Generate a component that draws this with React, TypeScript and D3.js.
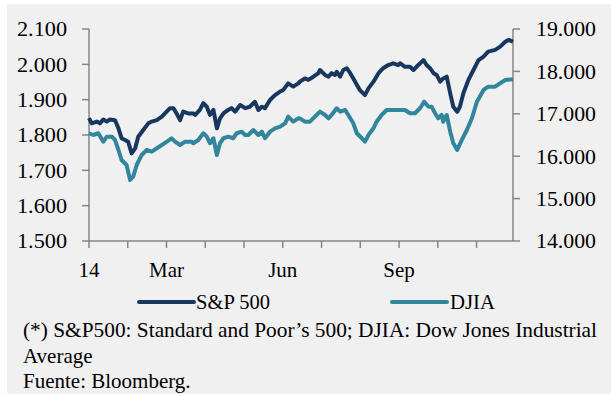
import React from "react";
import * as d3 from "d3";

// S&P 500 (left axis) — position in months from Jan 2014, index value
const spxMonth = [0, 0.07, 0.2, 0.28, 0.37, 0.46, 0.54, 0.67, 0.76, 0.84, 0.93, 1.01, 1.1, 1.19, 1.27, 1.4, 1.53, 1.62, 1.75, 1.88, 1.96, 2.09, 2.18, 2.26, 2.35, 2.43, 2.56, 2.69, 2.74, 2.86, 2.95, 3.04, 3.12, 3.21, 3.3, 3.38, 3.47, 3.59, 3.68, 3.77, 3.9, 4.03, 4.15, 4.28, 4.37, 4.46, 4.54, 4.67, 4.8, 4.93, 5.01, 5.14, 5.27, 5.4, 5.44, 5.57, 5.66, 5.79, 5.92, 5.96, 6.09, 6.18, 6.26, 6.35, 6.39, 6.48, 6.56, 6.65, 6.74, 6.82, 6.91, 6.99, 7.12, 7.21, 7.34, 7.47, 7.59, 7.72, 7.85, 7.98, 8.03, 8.15, 8.28, 8.37, 8.45, 8.63, 8.71, 8.8, 8.89, 8.97, 9.06, 9.14, 9.23, 9.32, 9.4, 9.5, 9.57, 9.66, 9.79, 9.92, 10.05, 10.18, 10.3, 10.48, 10.61, 10.74, 10.82, 10.94];
const spxValue = [1848, 1833, 1838, 1833, 1844, 1838, 1844, 1842, 1819, 1791, 1786, 1781, 1748, 1762, 1795, 1814, 1833, 1838, 1842, 1852, 1861, 1876, 1876, 1861, 1842, 1866, 1861, 1861, 1857, 1871, 1890, 1880, 1857, 1871, 1819, 1847, 1861, 1871, 1876, 1866, 1885, 1876, 1880, 1894, 1871, 1880, 1876, 1899, 1913, 1923, 1927, 1946, 1937, 1946, 1951, 1960, 1956, 1965, 1975, 1984, 1970, 1965, 1975, 1970, 1979, 1965, 1984, 1989, 1975, 1960, 1942, 1927, 1913, 1932, 1951, 1975, 1989, 1998, 2003, 1998, 2003, 1993, 1993, 1984, 1993, 2012, 1998, 1989, 1975, 1970, 1951, 1960, 1965, 1918, 1880, 1866, 1880, 1918, 1956, 1984, 2012, 2022, 2036, 2041, 2050, 2064, 2069, 2064];

// DJIA (right axis)
const djiaMonth = [0, 0.11, 0.24, 0.37, 0.46, 0.59, 0.67, 0.76, 0.84, 0.97, 1.06, 1.14, 1.23, 1.36, 1.49, 1.62, 1.75, 1.88, 2.01, 2.13, 2.22, 2.35, 2.48, 2.65, 2.69, 2.82, 2.95, 3.04, 3.12, 3.21, 3.3, 3.38, 3.47, 3.59, 3.72, 3.81, 3.94, 4.03, 4.11, 4.24, 4.37, 4.46, 4.54, 4.67, 4.8, 4.93, 5.06, 5.14, 5.27, 5.4, 5.44, 5.57, 5.7, 5.83, 5.96, 6.09, 6.18, 6.26, 6.39, 6.48, 6.61, 6.69, 6.82, 6.91, 7.04, 7.12, 7.21, 7.34, 7.42, 7.55, 7.68, 7.81, 7.94, 8.07, 8.15, 8.28, 8.41, 8.54, 8.65, 8.76, 8.84, 8.93, 9.01, 9.1, 9.14, 9.23, 9.32, 9.4, 9.5, 9.62, 9.75, 9.88, 10.01, 10.18, 10.3, 10.48, 10.61, 10.74, 10.94];
const djiaValue = [16541, 16500, 16541, 16343, 16460, 16460, 16383, 16147, 15911, 15793, 15439, 15517, 15793, 16029, 16147, 16107, 16187, 16265, 16343, 16423, 16343, 16265, 16343, 16343, 16305, 16383, 16541, 16460, 16305, 16423, 16029, 16305, 16423, 16460, 16423, 16541, 16578, 16500, 16500, 16618, 16500, 16578, 16423, 16578, 16658, 16696, 16776, 16932, 16814, 16894, 16894, 16814, 16814, 16932, 17050, 16972, 16894, 16972, 17130, 17050, 17090, 16972, 16776, 16541, 16423, 16343, 16500, 16658, 16814, 16972, 17090, 17090, 17090, 17090, 17090, 17012, 17012, 17130, 17286, 17168, 17168, 17012, 16894, 16972, 16814, 16972, 16578, 16305, 16147, 16383, 16618, 16894, 17286, 17562, 17639, 17639, 17720, 17797, 17814];

const leftTicks = [1500, 1600, 1700, 1800, 1900, 2000, 2100];
const rightTicks = [14000, 15000, 16000, 17000, 18000, 19000];
const monthTicks = [0, 1, 2, 3, 4, 5, 6, 7, 8, 9, 10];
const monthLabels = [
  { m: 0, label: "14" },
  { m: 2, label: "Mar" },
  { m: 5, label: "Jun" },
  { m: 8, label: "Sep" },
];
const seriesNames = ["S&P 500", "DJIA"];
const footnoteLines = [
  "(*) S&P500:  Standard and Poor’s 500; DJIA: Dow Jones Industrial",
  "Average",
  "Fuente: Bloomberg.",
];

const fmtThousands = (v: number) => (v / 1000).toFixed(3);

export default function App() {
  const W = 611, H = 394;
  const x = d3.scaleLinear().domain([0, 10.94]).range([89, 513]);
  const yL = d3.scaleLinear().domain([1500, 2100]).range([241, 29]);
  const yR = d3.scaleLinear().domain([14000, 19000]).range([241, 29]);

  const spx = spxMonth.map((m, i) => [m, spxValue[i]] as [number, number]);
  const dji = djiaMonth.map((m, i) => [m, djiaValue[i]] as [number, number]);
  const lineL = d3.line<[number, number]>().x((d) => x(d[0])).y((d) => yL(d[1]));
  const lineR = d3.line<[number, number]>().x((d) => x(d[0])).y((d) => yR(d[1]));

  const navy = "#17375E";
  const teal = "#31859C";
  const axis = "#868686";
  const ts: React.CSSProperties = { fontFamily: '"Liberation Serif", "DejaVu Serif", serif' };

  return (
    <svg width={W} height={H} style={{ position: "absolute", left: 0, top: 0 }}>
      <rect x={0} y={0} width={W} height={H} fill="#ffffff" />
      <rect x={7} y={4} width={W - 7} height={H - 4} fill="#f0f0f0" />

      {/* axes */}
      <line x1={89} x2={89} y1={29} y2={241} stroke={axis} strokeWidth={1.5} />
      <line x1={513} x2={513} y1={29} y2={241} stroke={axis} strokeWidth={1.5} />
      <line x1={89} x2={513} y1={241} y2={241} stroke={axis} strokeWidth={1.5} />

      {leftTicks.map((t) => (
        <g key={"l" + t}>
          <line x1={82} x2={89} y1={yL(t)} y2={yL(t)} stroke={axis} strokeWidth={1.5} />
          <text x={17} y={yL(t)} dy="0.35em" fontSize={21} textLength={50} lengthAdjust="spacingAndGlyphs" fill="#000" style={ts}>
            {fmtThousands(t)}
          </text>
        </g>
      ))}
      {rightTicks.map((t) => (
        <g key={"r" + t}>
          <line x1={513} x2={520} y1={yR(t)} y2={yR(t)} stroke={axis} strokeWidth={1.5} />
          <text x={536} y={yR(t)} dy="0.35em" fontSize={21} textLength={60} lengthAdjust="spacingAndGlyphs" fill="#000" style={ts}>
            {fmtThousands(t)}
          </text>
        </g>
      ))}
      {monthTicks.map((m) => (
        <line key={"m" + m} x1={x(m)} x2={x(m)} y1={241} y2={248} stroke={axis} strokeWidth={1.5} />
      ))}
      {monthLabels.map((d) => (
        <text key={d.label} x={x(d.m)} y={277} textAnchor="middle" fontSize={21} fill="#000" style={ts}>
          {d.label}
        </text>
      ))}

      {/* series */}
      <path d={lineR(dji) || ""} fill="none" stroke={teal} strokeWidth={4} strokeLinejoin="round" />
      <path d={lineL(spx) || ""} fill="none" stroke={navy} strokeWidth={4} strokeLinejoin="round" />

      {/* legend */}
      <line x1={139} x2={194} y1={302} y2={302} stroke={navy} strokeWidth={4} strokeLinecap="round" />
      <text x={196} y={302} dy="0.35em" fontSize={20} textLength={74} lengthAdjust="spacingAndGlyphs" fill="#000" style={ts}>{seriesNames[0]}</text>
      <line x1={392} x2={447} y1={302} y2={302} stroke={teal} strokeWidth={4} strokeLinecap="round" />
      <text x={450} y={302} dy="0.35em" fontSize={20} textLength={45} lengthAdjust="spacingAndGlyphs" fill="#000" style={ts}>{seriesNames[1]}</text>

      {/* footnote */}
      {footnoteLines.map((s, i) => (
        <text
          key={i}
          x={23}
          y={330 + i * 25.5}
          dy="0.35em"
          fontSize={21}
          textLength={i === 0 ? 574 : undefined}
          lengthAdjust={i === 0 ? "spacingAndGlyphs" : undefined}
          fill="#000"
          style={ts}
        >
          {s}
        </text>
      ))}
    </svg>
  );
}
